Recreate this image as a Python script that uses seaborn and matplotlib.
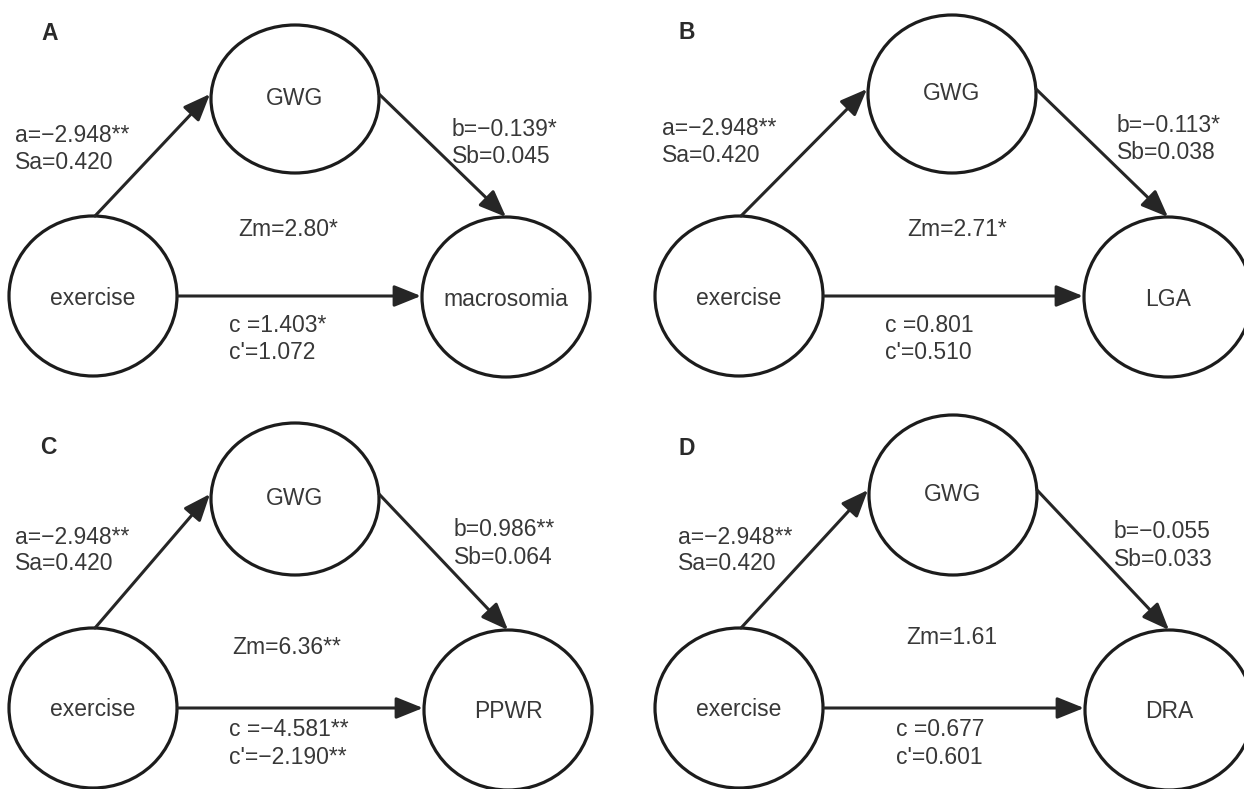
import matplotlib
matplotlib.use("Agg")
import matplotlib.pyplot as plt
from matplotlib.patches import Ellipse
import seaborn as sns

# mediation results: exercise -> GWG -> outcome
panel_tags = ["A", "B", "C", "D"]
mediator = "GWG"
predictor = "exercise"
outcomes = ["macrosomia", "LGA", "PPWR", "DRA"]
a_text = ["a=\u22122.948**", "a=\u22122.948**", "a=\u22122.948**", "a=\u22122.948**"]
sa_text = ["Sa=0.420", "Sa=0.420", "Sa=0.420", "Sa=0.420"]
b_text = ["b=\u22120.139*", "b=\u22120.113*", "b=0.986**", "b=\u22120.055"]
sb_text = ["Sb=0.045", "Sb=0.038", "Sb=0.064", "Sb=0.033"]
zm_text = ["Zm=2.80*", "Zm=2.71*", "Zm=6.36**", "Zm=1.61"]
c_text = ["c =1.403*", "c =0.801", "c =\u22124.581**", "c =0.677"]
cp_text = ["c'=1.072", "c'=0.510", "c'=\u22122.190**", "c'=0.601"]

# layout in pixel units of the 1244x789 canvas
# node centres (mediator, predictor, outcome) and text anchors per panel
layout = [
    dict(m=(295, 99), mry=74, x=(93, 296), y=(506, 297), tag=(41, 33),
         a=(15, 135), b=(452, 129), zm=(238, 229), c=(229, 325)),
    dict(m=(952, 94), mry=79, x=(739, 296), y=(1168, 297), tag=(678, 32),
         a=(662, 128), b=(1117, 125), zm=(907, 229), c=(885, 325)),
    dict(m=(295, 499), mry=76, x=(93, 708), y=(508, 710), tag=(40, 447),
         a=(15, 537), b=(454, 530), zm=(232, 648), c=(229, 730)),
    dict(m=(953, 495), mry=80, x=(739, 708), y=(1169, 710), tag=(678, 448),
         a=(678, 537), b=(1114, 532), zm=(906, 637), c=(896, 730)),
]
RX = 84
RY = 80
LINE_GAP = 27

sns.set_style("white")
plt.rcParams["font.family"] = ["Liberation Sans", "DejaVu Sans"]

fig = plt.figure(figsize=(12.44, 7.89), dpi=100)
ax = fig.add_axes([0, 0, 1, 1])
ax.set_xlim(0, 1244)
ax.set_ylim(789, 0)
ax.axis("off")

edge = "#1c1c1c"
txt = "#383838"
fs = 16.5

arrow_kw = dict(arrowstyle="-|>,head_length=0.82,head_width=0.33",
                mutation_scale=20, lw=2.2, color="#262626",
                shrinkA=0, shrinkB=0)

for i, lay in enumerate(layout):
    mx, my = lay["m"]
    xx, xy = lay["x"]
    yx, yy = lay["y"]

    # nodes
    ax.add_patch(Ellipse((mx, my), 2 * RX, 2 * lay["mry"], fill=False, ec=edge, lw=2.3))
    ax.add_patch(Ellipse((xx, xy), 2 * RX, 2 * RY, fill=False, ec=edge, lw=2.3))
    ax.add_patch(Ellipse((yx, yy), 2 * RX, 2 * RY, fill=False, ec=edge, lw=2.3))
    ax.text(mx, my - 1, mediator, ha="center", va="center", fontsize=fs, color=txt)
    ax.text(xx, xy + 2, predictor, ha="center", va="center", fontsize=fs, color=txt)
    ax.text(yx, yy + 2, outcomes[i], ha="center", va="center", fontsize=fs, color=txt)

    # paths a, b and c
    ax.annotate("", xy=(mx - RX - 1, my - 5), xytext=(xx + 2, xy - RY), arrowprops=arrow_kw)
    ax.annotate("", xy=(yx, yy - RY), xytext=(mx + RX, my - 5), arrowprops=arrow_kw)
    ax.annotate("", xy=(yx - RX - 1, xy), xytext=(xx + RX + 1, xy), arrowprops=arrow_kw)

    # labels
    ax.text(*lay["tag"], panel_tags[i], ha="left", va="center", fontsize=16.5,
            color="#2a2a2a", fontweight="bold")
    ax.text(lay["a"][0], lay["a"][1], a_text[i], ha="left", va="center", fontsize=fs, color=txt)
    ax.text(lay["a"][0], lay["a"][1] + LINE_GAP, sa_text[i], ha="left", va="center", fontsize=fs, color=txt)
    ax.text(lay["b"][0], lay["b"][1], b_text[i], ha="left", va="center", fontsize=fs, color=txt)
    ax.text(lay["b"][0], lay["b"][1] + LINE_GAP, sb_text[i], ha="left", va="center", fontsize=fs, color=txt)
    ax.text(lay["zm"][0], lay["zm"][1], zm_text[i], ha="left", va="center", fontsize=fs, color=txt)
    ax.text(lay["c"][0], lay["c"][1], c_text[i], ha="left", va="center", fontsize=fs, color=txt)
    ax.text(lay["c"][0], lay["c"][1] + LINE_GAP, cp_text[i], ha="left", va="center", fontsize=fs, color=txt)

fig.savefig("out.png", dpi=100, facecolor="white")
